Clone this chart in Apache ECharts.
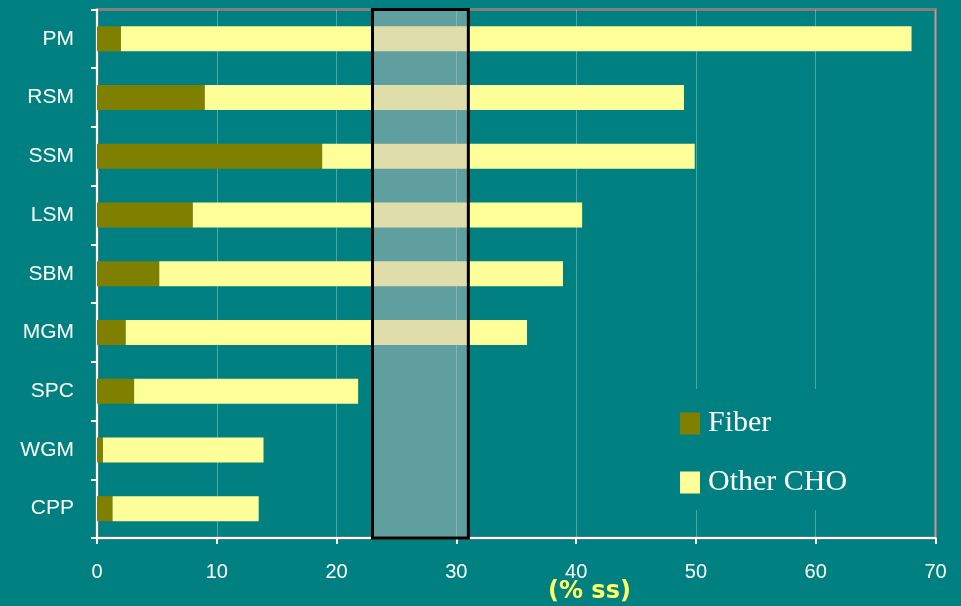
<!DOCTYPE html>
<html>
<head>
<meta charset="utf-8">
<script src="https://cdn.jsdelivr.net/npm/echarts@6/dist/echarts.min.js"></script>
<style>
  html, body { margin: 0; padding: 0; background: #008080; }
  #chart { width: 961px; height: 606px; }
</style>
</head>
<body>
<div id="chart"></div>
<script>
const categories = ['PM', 'RSM', 'SSM', 'LSM', 'SBM', 'MGM', 'SPC', 'WGM', 'CPP'];
const fiber = [2, 9, 18.8, 8, 5.2, 2.4, 3.1, 0.5, 1.3];
const otherCho = [66, 40, 31.1, 32.5, 33.7, 33.5, 18.7, 13.4, 12.2];
const xTicks = [0, 10, 20, 30, 40, 50, 60, 70];
const highlightRange = [23, 31];

const chart = echarts.init(document.getElementById('chart'));

const option = {
  backgroundColor: '#008080',
  animation: false,
  title: {
    text: '(% ss)',
    left: 543,
    top: 575,
    textStyle: {
      color: '#FFFF66',
      fontFamily: 'DejaVu Sans',
      fontSize: 24,
      fontWeight: 'bold',
    },
  },
  legend: {
    orient: 'vertical',
    left: 660,
    top: 389,
    padding: [17, 20, 10, 20],
    backgroundColor: '#008080',
    itemWidth: 20,
    itemHeight: 22,
    itemGap: 24,
    icon: 'rect',
    data: ['Fiber', 'Other CHO'],
    textStyle: {
      color: '#fff',
      fontFamily: 'Liberation Serif',
      fontSize: 30,
      lineHeight: 30,
      padding: [5, 0, 0, 3],
    },
  },
  grid: {
    left: 97,
    right: 25.5,
    top: 9.5,
    bottom: 68,
    show: true,
    borderColor: '#808080',
    borderWidth: 3,
    containLabel: false,
  },
  xAxis: {
    type: 'value',
    min: xTicks[0],
    max: xTicks[xTicks.length - 1],
    interval: 10,
    axisLine: { show: true, lineStyle: { color: '#fff', width: 2 } },
    axisTick: { show: true, length: 6, lineStyle: { color: '#fff', width: 2 } },
    axisLabel: {
      color: '#fff',
      fontFamily: 'Liberation Sans',
      fontSize: 20,
      margin: 24,
    },
    splitLine: { show: true, lineStyle: { color: 'rgba(255,255,255,0.3)', width: 1 } },
  },
  yAxis: {
    type: 'category',
    data: categories,
    inverse: true,
    axisLine: { show: true, lineStyle: { color: '#fff', width: 2 } },
    axisTick: { show: true, length: 6, interval: 0, lineStyle: { color: '#fff', width: 2 } },
    axisLabel: {
      color: '#fff',
      fontFamily: 'Liberation Sans',
      fontSize: 21,
      margin: 23,
    },
    splitLine: { show: false },
  },
  series: [
    {
      name: 'Fiber',
      type: 'bar',
      stack: 'cho',
      data: fiber,
      barWidth: 25,
      itemStyle: { color: '#808000' },
    },
    {
      name: 'Other CHO',
      type: 'bar',
      stack: 'cho',
      data: otherCho,
      barWidth: 25,
      itemStyle: { color: '#FFFF99' },
      markArea: {
        silent: true,
        z: 5,
        itemStyle: {
          color: 'rgba(192,190,190,0.5)',
          borderColor: '#000',
          borderWidth: 3,
        },
        data: [[{ xAxis: highlightRange[0] }, { xAxis: highlightRange[1] }]],
      },
    },
  ],
};

chart.setOption(option);
</script>
</body>
</html>
